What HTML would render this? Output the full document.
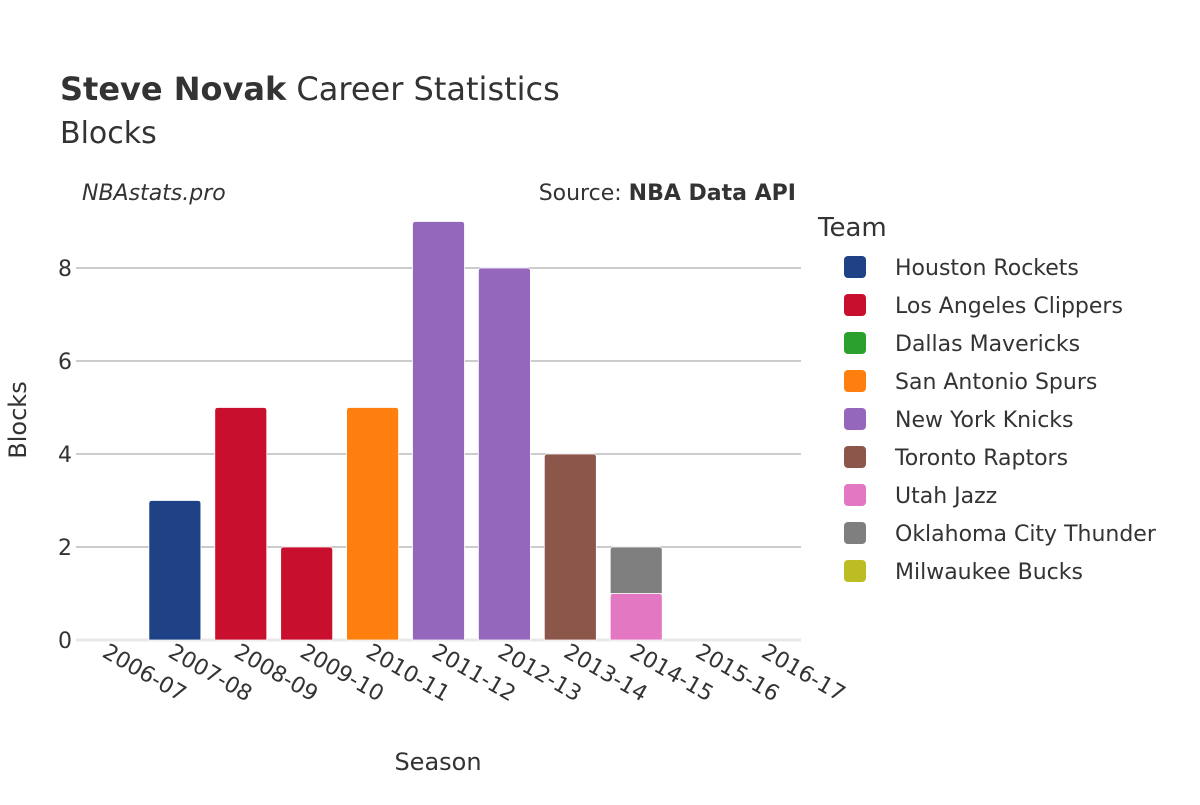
<!DOCTYPE html>
<html><head><meta charset="utf-8"><style>
body{margin:0;background:#fff;font-family:"Liberation Sans","DejaVu Sans",sans-serif}
</style></head><body>
<svg width="1200" height="800" xmlns="http://www.w3.org/2000/svg" font-family="'DejaVu Sans','Liberation Sans',sans-serif">
<text x="60" y="100" font-size="32" fill="#333"><tspan font-weight="bold">Steve Novak</tspan> Career Statistics</text>
<text x="60" y="143" font-size="30" fill="#333">Blocks</text>
<text x="82" y="200" font-size="22" font-style="italic" fill="#333">NBAstats.pro</text>
<text x="796" y="200" font-size="22" fill="#333" text-anchor="end">Source: <tspan font-weight="bold">NBA Data API</tspan></text>
<g id="grid"></g><g id="bars"></g><g id="xt"></g><g id="yt"></g>
<text x="438" y="770" font-size="24" fill="#333" text-anchor="middle">Season</text>
<text transform="translate(26,420) rotate(-90)" font-size="24" fill="#333" text-anchor="middle">Blocks</text>
<text x="818" y="236" font-size="26" fill="#333">Team</text>
<g id="legend"></g>
</svg>
<script>
const seasons=["2006-07","2007-08","2008-09","2009-10","2010-11","2011-12","2012-13","2013-14","2014-15","2015-16","2016-17"];
const teams=["Houston Rockets","Los Angeles Clippers","Dallas Mavericks","San Antonio Spurs","New York Knicks","Toronto Raptors","Utah Jazz","Oklahoma City Thunder","Milwaukee Bucks"];
const colors=["#1f4287","#c8102e","#2ca02c","#ff7f0e","#9467bd","#8c564b","#e377c2","#7f7f7f","#bcbd22"];
// [season index, team index, value]
const segs=[[0,0,0],[1,0,3],[2,1,5],[3,1,2],[4,3,5],[5,4,9],[6,4,8],[7,5,4],[8,6,1],[8,7,1],[9,8,0],[10,8,0]];
const yTicks=[0,2,4,6,8];
const NS="http://www.w3.org/2000/svg";
const L=76,R=801,Y0=640,PU=46.5,step=(R-L)/seasons.length,bw=52;
const xc=i=>L+step*(i+0.5), y=v=>Y0-v*PU;
function mk(t,a,p){const e=document.createElementNS(NS,t);for(const k in a)e.setAttribute(k,a[k]);p.appendChild(e);return e;}
const g=document.getElementById('grid');
yTicks.forEach(v=>{
  const l=mk('line',{x1:L,x2:R,y1:y(v),y2:y(v),stroke:v?'#999':'#e8e8e8','stroke-width':v?1:3},g);
  
  
  const t=mk('text',{x:L-4,y:y(v)+8,'font-size':22,fill:'#333','text-anchor':'end'},document.getElementById('yt'));
  t.textContent=v;
  
  
});
const b=document.getElementById('bars');const stack={};
segs.forEach(([s,ti,v])=>{
  const base=stack[s]||0;stack[s]=base+v;
  if(v<=0)return;
  const x=xc(s)-bw/2,yt=y(base+v),h=v*PU,r=3;
  const p=mk('path',{d:`M${x},${y(base)}V${yt+r}Q${x},${yt} ${x+r},${yt}H${x+bw-r}Q${x+bw},${yt} ${x+bw},${yt+r}V${y(base)}Z`,fill:colors[ti],stroke:'#fff','stroke-width':0.8},b);
  
  
});
seasons.forEach((s,i)=>{
  const t=mk('text',{transform:`translate(${xc(i)-8},${656}) rotate(30)`,'font-size':22,fill:'#333'},document.getElementById('xt'));
  t.textContent=s;
  
  
});
const lg=document.getElementById('legend');
teams.forEach((tm,i)=>{
  const yy=267+i*38;
  const r=mk('rect',{x:844,y:yy-11,width:22,height:22,rx:4,fill:colors[i]},lg);
  
  
  const t=mk('text',{x:895,y:yy+8,'font-size':22,fill:'#333'},lg);
  t.textContent=tm;
  
  
});
</script>
</body></html>
